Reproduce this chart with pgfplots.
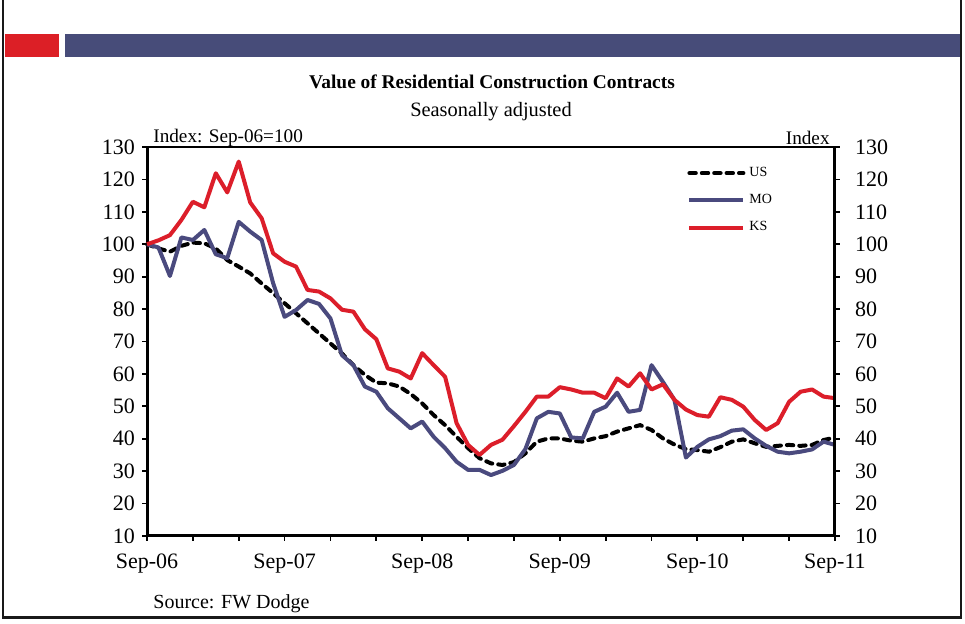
\documentclass[border=0pt]{standalone}
\usepackage{pgfplots}
\pgfplotsset{compat=1.18}
\usepackage{pgfplotstable}
\usepackage{fontspec}
\setmainfont{Liberation Serif}
\definecolor{ksred}{HTML}{DC1E2A}
\definecolor{moblue}{HTML}{4A4A7E}
\definecolor{hdrblue}{HTML}{474C79}
\definecolor{hdrred}{HTML}{DC1F26}
\pgfplotstableread{
m US MO KS
0 100 100 100
1 98.7 99.0 101.2
2 97.7 90.2 102.8
3 99.5 102.1 107.5
4 100.5 101.3 113.1
5 100.3 104.4 111.4
6 98.7 96.9 121.9
7 95.1 95.7 116.0
8 93.1 106.9 125.5
9 91.0 103.9 112.9
10 87.9 101.3 108.0
11 84.9 88.0 97.2
12 81.8 77.6 94.6
13 78.7 79.7 93.1
14 75.6 82.8 85.9
15 72.5 81.6 85.4
16 69.4 77.1 83.3
17 66.3 65.8 79.8
18 62.7 62.7 79.2
19 59.7 56.1 73.8
20 57.3 54.5 70.7
21 57.1 49.4 61.7
22 56.1 46.3 60.7
23 53.8 43.2 58.6
24 50.9 45.3 66.4
25 47.3 40.6 62.7
26 44.2 37.1 59.1
27 40.6 32.9 44.8
28 37.1 30.4 38.1
29 34.0 30.4 35.0
30 32.4 28.8 38.1
31 31.9 30.1 39.7
32 32.8 31.9 43.9
33 35.5 36.8 48.3
34 39.1 46.3 53.0
35 40.1 48.3 53.0
36 40.1 47.8 55.9
37 39.4 40.4 55.2
38 39.1 40.1 54.2
39 40.1 48.3 54.2
40 40.8 49.9 52.5
41 42.2 54.2 58.6
42 43.2 48.3 56.1
43 44.2 48.9 60.2
44 42.7 62.7 55.2
45 40.1 57.5 56.8
46 38.2 52.0 52.0
47 36.8 34.2 49.0
48 36.5 37.5 47.3
49 36.0 39.8 46.8
50 37.4 40.8 52.8
51 39.1 42.5 52.0
52 39.8 42.9 49.9
53 38.6 40.1 45.8
54 37.5 37.8 42.7
55 37.8 36.0 44.8
56 38.1 35.5 51.4
57 37.8 36.0 54.5
58 38.1 36.7 55.2
59 39.6 39.1 53.0
60 40.4 38.1 52.5
}\datatable
\begin{document}
\begin{tikzpicture}
% canvas 965x624 px at 0.5pt per px
\path[use as bounding box] (0,0) rectangle (482.5pt,312pt);
\fill[white] (0,0) rectangle (482.5pt,312pt);
% frame
\draw[line width=1.25pt, black!90] (1.5pt,312pt) -- (1.5pt,3.25pt) -- (480.5pt,3.25pt) -- (480.5pt,312pt);
% header band
\fill[hdrred] (2.5pt,283.25pt) rectangle (29.5pt,295pt);
\fill[hdrblue] (32.5pt,283.25pt) rectangle (480pt,295pt);
% titles
\node[font=\fontsize{9.7}{11}\selectfont\bfseries] at (246pt,271pt) {Value of Residential Construction Contracts};
\node[font=\fontsize{10.2}{12}\selectfont] at (245.5pt,256pt) {Seasonally adjusted};
\node[font=\fontsize{9.6}{11}\selectfont, anchor=west, inner sep=0pt] at (76.5pt,243pt) {Index: Sep-06=100};
\node[font=\fontsize{9.6}{11}\selectfont, anchor=east, inner sep=0pt] at (415pt,243pt) {Index};
\node[font=\fontsize{10}{12}\selectfont, anchor=west, inner sep=0pt] at (76.5pt,10pt) {Source: FW Dodge};
\begin{axis}[
  name=main,
  at={(73.5pt,44pt)}, anchor=south west,
  scale only axis, width=344pt, height=194.5pt,
  xmin=0, xmax=60, ymin=10, ymax=130,
  axis x line*=bottom, axis y line*=left,
  axis line style={line width=1.5pt},
  tick align=outside,
  major tick length=2.5pt,
  tick style={line width=0.9pt, black},
  xtick={0,4,...,60},
  xticklabels={Sep-06,,,Sep-07,,,Sep-08,,,Sep-09,,,Sep-10,,,Sep-11},
  ytick={10,20,...,130},
  ticklabel style={font=\fontsize{11}{13}\selectfont},
  /pgf/number format/assume math mode=true,
  xticklabel style={yshift=-3pt},
  legend style={draw=none, fill=none, at={(0.782,0.965)}, anchor=north west,
    font=\fontsize{7}{8}\selectfont, row sep=3.5pt, inner sep=1pt},
  legend cell align=left,
  legend image code/.code={\draw[#1] (0pt,0pt) -- (27pt,0pt);},
  clip=false,
]
\addplot[black, line width=2pt, line cap=round, dash pattern=on 3.2pt off 3pt] table[x=m, y=US] {\datatable};
\addlegendentry{US}
\addplot[moblue, line width=2pt, line join=round] table[x=m, y=MO] {\datatable};
\addlegendentry{MO}
\addplot[ksred, line width=2pt, line join=round] table[x=m, y=KS] {\datatable};
\addlegendentry{KS}
\draw[line width=0.6pt] (rel axis cs:0,1) -- (rel axis cs:1,1);
\end{axis}
\begin{axis}[
  at={(73.5pt,44pt)}, anchor=south west,
  scale only axis, width=344pt, height=194.5pt,
  xmin=0, xmax=60, ymin=10, ymax=130,
  axis x line=none, axis y line*=right,
  axis line style={line width=1.5pt},
  tick align=outside,
  major tick length=2.5pt,
  tick style={line width=0.9pt, black},
  ytick={10,20,...,130},
  ticklabel style={font=\fontsize{11}{13}\selectfont},
  /pgf/number format/assume math mode=true,
  yticklabel style={xshift=4pt},
]
\addplot[draw=none] coordinates {(0,10)};
\end{axis}
\end{tikzpicture}
\end{document}
